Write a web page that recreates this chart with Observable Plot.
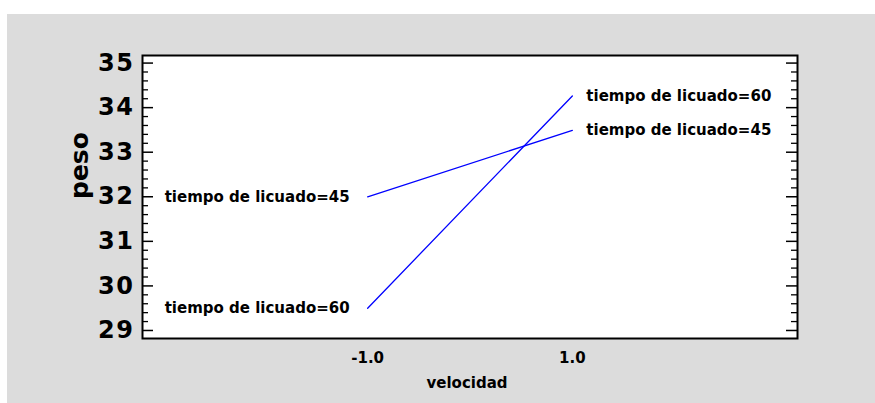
<!DOCTYPE html>
<html>
<head>
<meta charset="utf-8">
<script src="https://cdn.jsdelivr.net/npm/d3@7"></script>
<script src="https://cdn.jsdelivr.net/npm/@observablehq/plot@0.6"></script>
<style>
  html, body { margin: 0; padding: 0; background: #ffffff; }
  #chart { padding: 14px 0 0 7px; }
  svg { display: block; }
</style>
</head>
<body>
<div id="chart"></div>
<script>
// Data
const velocidad = [-1, 1];
const series = ["45", "60"];
const peso45 = [32.0, 33.49];
const peso60 = [29.5, 34.26];
const seriesLabel = "tiempo de licuado=";

// Axis ticks
const yMajorTicks = [29, 30, 31, 32, 33, 34, 35];
const yMinorTicks = [29.2, 29.4, 29.6, 29.8, 30.2, 30.4, 30.6, 30.8, 31.2, 31.4, 31.6, 31.8,
                     32.2, 32.4, 32.6, 32.8, 33.2, 33.4, 33.6, 33.8, 34.2, 34.4, 34.6, 34.8];
const xTicks = [-1, 1];

const values = {"45": peso45, "60": peso60};
const rows = series.flatMap(s => velocidad.map((v, i) => ({tiempo: s, velocidad: v, peso: values[s][i]})));
const starts = rows.filter(d => d.velocidad === velocidad[0]);
const ends = rows.filter(d => d.velocidad === velocidad[velocidad.length - 1]);

const W = 868, H = 389;
const mL = 135, mR = 78, mT = 41, mB = 65;
const plotW = W - mL - mR;

const chart = Plot.plot({
  width: W,
  height: H,
  marginLeft: mL,
  marginRight: mR,
  marginTop: mT,
  marginBottom: mB,
  style: {background: "#dcdcdc", fontFamily: "DejaVu Sans, sans-serif", fontWeight: "bold", color: "black"},
  x: {domain: [-3.2, 3.2]},
  y: {domain: [28.82, 35.17]},
  marks: [
    Plot.frame({fill: "white", stroke: null}),
    // inward ticks, left and right
    Plot.tickY(yMajorTicks, {y: d => d, stroke: "black", strokeWidth: 1.5, insetRight: plotW - 11}),
    Plot.tickY(yMajorTicks, {y: d => d, stroke: "black", strokeWidth: 1.5, insetLeft: plotW - 11}),
    Plot.tickY(yMinorTicks, {y: d => d, stroke: "black", strokeWidth: 1.3, insetRight: plotW - 6}),
    Plot.tickY(yMinorTicks, {y: d => d, stroke: "black", strokeWidth: 1.3, insetLeft: plotW - 6}),
    Plot.axisY({ticks: yMajorTicks, tickSize: 0, tickPadding: 8, fontSize: 24, label: null, tickFormat: d => String(d)}),
    Plot.axisX({ticks: xTicks, tickSize: 0, tickPadding: 14, fontSize: 15, label: null, tickFormat: d => d.toFixed(1)}),
    Plot.text(["peso"], {frameAnchor: "left", rotate: -90, dx: -63, dy: 2, fontSize: 25, fill: "black"}),
    Plot.text(["velocidad"], {frameAnchor: "bottom", dx: -3, dy: 49, fontSize: 15, fill: "black"}),
    Plot.line(rows, {x: "velocidad", y: "peso", z: "tiempo", stroke: "#0000ff", strokeWidth: 1.3}),
    Plot.text(starts, {x: "velocidad", y: "peso", text: d => seriesLabel + d.tiempo, textAnchor: "end", dx: -18, fontSize: 15, fill: "black"}),
    Plot.text(ends, {x: "velocidad", y: "peso", text: d => seriesLabel + d.tiempo, textAnchor: "start", dx: 14, fontSize: 15, fill: "black"}),
    Plot.frame({stroke: "black", strokeWidth: 2})
  ]
});
chart.querySelectorAll('[aria-label="y-axis tick label"] text').forEach(t => t.style.letterSpacing = "1.5px");
document.getElementById("chart").appendChild(chart);
</script>
</body>
</html>
